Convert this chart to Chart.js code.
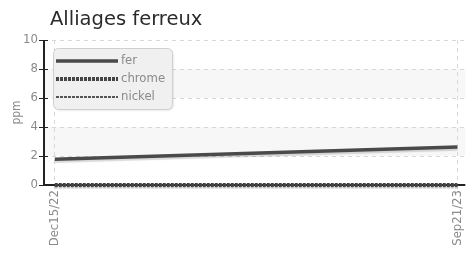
<!DOCTYPE html>
<html>
<head>
<meta charset="utf-8">
<script src="https://cdn.jsdelivr.net/npm/chart.js@4"></script>
<style>
  html, body { margin: 0; padding: 0; background: #fff; }
  #wrap { width: 474px; height: 254px; }
</style>
</head>
<body>
<div id="wrap"><canvas id="chart" width="474" height="254"></canvas></div>
<script>
(function () {
  'use strict';

  // Données (jours depuis le 15/12/2022).
  const dayOffsets = [0, 280];
  const tickLabels = ['Dec15/22', 'Sep21/23'];
  const ferValues = [1.77, 2.62];
  const chromeValues = [0, 0];
  const nickelValues = [0, 0];
  const seriesNames = ['fer', 'chrome', 'nickel'];

  const COND = '"DejaVu Sans Condensed", "DejaVu Sans", sans-serif';
  const LABEL = '#8a8a8a';
  const AXIS = '#222';
  const GRID = '#d8d8d8';
  const LINE = '#4a4a4a';

  const pts = (vals) => vals.map((v, i) => ({ x: dayOffsets[i], y: v }));

  // Bandes grises alternées (8–6 et 4–2) sous la grille.
  const bands = {
    id: 'bands',
    beforeDraw(chart) {
      const { ctx, chartArea: a, scales: { y } } = chart;
      ctx.save();
      ctx.fillStyle = '#f7f7f7';
      [[6, 8], [2, 4]].forEach(([lo, hi]) => {
        const top = y.getPixelForValue(hi);
        ctx.fillRect(a.left, top, a.right - a.left, y.getPixelForValue(lo) - top);
      });
      ctx.restore();
    },
  };

  // Axes noirs + petits traits qui croisent l'axe vertical.
  const axes = {
    id: 'axes',
    beforeDatasetsDraw(chart) {
      const { ctx, chartArea: a, scales: { y } } = chart;
      ctx.save();
      ctx.strokeStyle = AXIS;
      ctx.lineWidth = 2;
      ctx.beginPath();
      ctx.moveTo(a.left, a.top);
      ctx.lineTo(a.left, a.bottom);
      ctx.lineTo(a.right, a.bottom);
      ctx.stroke();
      ctx.lineWidth = 1;
      y.ticks.forEach((t) => {
        const py = Math.round(y.getPixelForValue(t.value)) + 0.5;
        ctx.beginPath();
        ctx.moveTo(a.left - 5, py);
        ctx.lineTo(a.left + 4, py);
        ctx.stroke();
      });
      ctx.restore();
    },
  };

  // Ombre portée légère sous les séries, à la jqPlot.
  const shadow = {
    id: 'shadow',
    beforeDatasetDraw(chart) {
      const ctx = chart.ctx;
      ctx.save();
      ctx.shadowColor = 'rgba(0,0,0,0.15)';
      ctx.shadowOffsetY = 2;
      ctx.shadowBlur = 1;
    },
    afterDatasetDraw(chart) {
      chart.ctx.restore();
    },
  };

  // Titre et légende dessinés à la main : position fixe dans la zone du graphe.
  const overlay = {
    id: 'overlay',
    afterDraw(chart) {
      const ctx = chart.ctx;
      ctx.save();
      ctx.fillStyle = '#2b2b2b';
      ctx.font = '19.5px "DejaVu Sans", sans-serif';
      ctx.textBaseline = 'alphabetic';
      ctx.fillText('Alliages ferreux', 50, 25);

      const bx = 53.5, by = 48.5, bw = 119, bh = 61;
      ctx.shadowColor = 'rgba(0,0,0,0.12)';
      ctx.shadowOffsetX = 1;
      ctx.shadowOffsetY = 1;
      ctx.shadowBlur = 2;
      ctx.beginPath();
      ctx.roundRect(bx, by, bw, bh, 5);
      ctx.fillStyle = 'rgba(240,240,240,0.96)';
      ctx.fill();
      ctx.shadowColor = 'transparent';
      ctx.strokeStyle = '#cfcfcf';
      ctx.lineWidth = 1;
      ctx.stroke();

      ctx.font = '13px ' + COND;
      ctx.textBaseline = 'middle';
      chart.data.datasets.forEach((ds, i) => {
        const ly = 61 + i * 18;
        ctx.beginPath();
        ctx.setLineDash(ds.borderDash || []);
        ctx.lineWidth = ds.borderWidth;
        ctx.strokeStyle = ds.borderColor;
        ctx.moveTo(56, ly);
        ctx.lineTo(118, ly);
        ctx.stroke();
        ctx.setLineDash([]);
        ctx.fillStyle = LABEL;
        ctx.fillText(ds.label, 121, ly);
      });
      ctx.restore();
    },
  };

  new Chart(document.getElementById('chart'), {
    type: 'line',
    data: {
      datasets: [
        { label: seriesNames[0], data: pts(ferValues), borderColor: LINE, borderWidth: 3.5 },
        { label: seriesNames[1], data: pts(chromeValues), borderColor: '#444', borderWidth: 4, borderDash: [3, 1] },
        { label: seriesNames[2], data: pts(nickelValues), borderColor: '#555', borderWidth: 2, borderDash: [3, 1] },
      ].map((ds) => Object.assign(ds, { pointRadius: 0, tension: 0, borderCapStyle: 'butt', clip: false })),
    },
    options: {
      responsive: false,
      animation: false,
      layout: { padding: { top: 40, left: 0, right: 0, bottom: 0 } },
      plugins: { legend: { display: false }, title: { display: false }, tooltip: { enabled: false } },
      scales: {
        x: {
          type: 'linear',
          min: -7.5,
          max: 285.5,
          afterBuildTicks: (s) => { s.ticks = dayOffsets.map((v) => ({ value: v })); },
          afterFit: (s) => { s.height = 69; },
          ticks: {
            minRotation: 90,
            maxRotation: 90,
            padding: 1,
            color: LABEL,
            font: { family: COND, size: 13 },
            callback: (v) => tickLabels[dayOffsets.indexOf(v)],
          },
          grid: { color: GRID, tickColor: GRID, tickLength: 4 },
          border: { display: false, dash: [4, 4] },
        },
        y: {
          min: 0,
          max: 10,
          afterFit: (s) => { s.width = 44; },
          ticks: {
            stepSize: 2,
            padding: 2,
            color: LABEL,
            font: { family: COND, size: 13 },
          },
          grid: {
            color: (c) => (c.tick && c.tick.value === 0 ? 'transparent' : GRID),
            tickColor: 'transparent',
            tickLength: 4,
          },
          border: { display: false, dash: [4, 4] },
          title: {
            display: true,
            text: 'ppm',
            color: LABEL,
            font: { family: COND, size: 12 },
            padding: { top: 10, bottom: 0 },
          },
        },
      },
    },
    plugins: [bands, axes, shadow, overlay],
  });
})();
</script>
</body>
</html>
